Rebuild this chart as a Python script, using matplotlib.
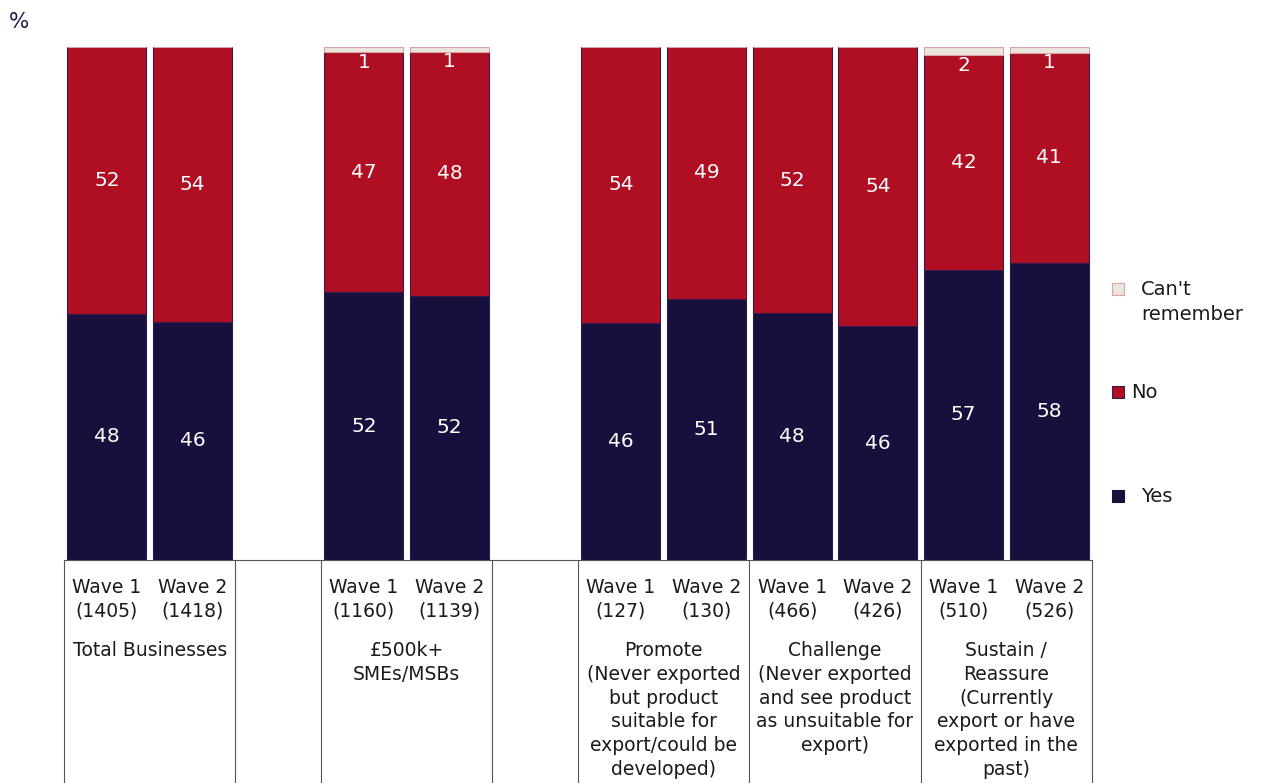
import matplotlib.pyplot as plt
from matplotlib.patches import Rectangle
from matplotlib.transforms import blended_transform_factory

# bar slots (gaps at 2 and 5)
positions = [0, 1, 3, 4, 6, 7, 8, 9, 10, 11]
waves = ["Wave 1", "Wave 2"] * 5
bases = ["(1405)", "(1418)", "(1160)", "(1139)", "(127)", "(130)",
         "(466)", "(426)", "(510)", "(526)"]

yes = [48.0, 46.4, 52.2, 51.5, 46.2, 50.9, 48.1, 45.6, 56.6, 57.9]
no = [52.0, 53.6, 46.8, 47.6, 53.8, 49.1, 51.9, 54.4, 41.8, 41.0]
cant = [0.0, 0.0, 1.0, 0.9, 0.0, 0.0, 0.0, 0.0, 1.6, 1.1]

group_labels = ["Total Businesses", "£500k+\nSMEs/MSBs",
                "Promote\n(Never exported\nbut product\nsuitable for\nexport/could be\ndeveloped)",
                "Challenge\n(Never exported\nand see product\nas unsuitable for\nexport)",
                "Sustain /\nReassure\n(Currently\nexport or have\nexported in the\npast)"]
group_centers = [0.5, 3.5, 6.5, 8.5, 10.5]
cell_edges = [-0.5, 1.5, 2.5, 4.5, 5.5, 7.5, 9.5, 11.5]

NAVY = "#180f3c"
RED = "#b00e22"
CREAM = "#ebe5df"
TEXT = "#1a1a1a"

plt.rcParams["font.family"] = ["DejaVu Sans"]

fig = plt.figure(figsize=(12.64, 7.83), dpi=100)
ax = fig.add_axes([64 / 1264, 1 - 560 / 783, (1092 - 64) / 1264, (560 - 47) / 783])

w = 0.92
ax.bar(positions, yes, width=w, color=NAVY, edgecolor="#2a1d52", lw=0.8)
ax.bar(positions, no, width=w, bottom=yes, color=RED, edgecolor="#3a1a4a", lw=0.8)
cant_bottom = [a + b for a, b in zip(yes, no)]
ax.bar(positions, cant, width=w, bottom=cant_bottom, color=CREAM, edgecolor="#d9a3a3", lw=0.8)

for x, y, n, c, cb in zip(positions, yes, no, cant, cant_bottom):
    ax.text(x, y / 2, f"{y:.0f}", ha="center", va="center", color="white", fontsize=14.5)
    ax.text(x, y + n / 2, f"{n:.0f}", ha="center", va="center", color="white", fontsize=14.5)
    if c > 0:
        ax.text(x, cb - 0.1, f"{c:.0f}", ha="center", va="top", color="white", fontsize=14.5)

ax.set_xlim(-0.5, 11.5)
ax.set_ylim(0, 100)
ax.set_xticks([])
ax.set_yticks([])
for s in ["top", "right", "left"]:
    ax.spines[s].set_visible(False)
ax.spines["bottom"].set_color("#555555")
ax.spines["bottom"].set_linewidth(0.8)

# category table below the bars
tr = blended_transform_factory(ax.transData, fig.transFigure)
for xe in cell_edges:
    ax.plot([xe, xe], [1 - 560 / 783, 0], transform=tr, color="#555555", lw=0.8, clip_on=False)

for x, wv, b in zip(positions, waves, bases):
    ax.text(x, 1 - 578 / 783, f"{wv}\n{b}", transform=tr, ha="center", va="top",
            color=TEXT, fontsize=13.5, linespacing=1.32)
for x, g in zip(group_centers, group_labels):
    ax.text(x, 1 - 641 / 783, g, transform=tr, ha="center", va="top",
            color=TEXT, fontsize=13.5, linespacing=1.32)

fig.text(9 / 1264, 1 - 22 / 783, "%", ha="left", va="center", color="#1e1a4a", fontsize=15.5)

# legend, drawn by hand to match the layout
legend_items = [("Can't\nremember", CREAM, "#d9a3a3", 289, 1141, 302),
                ("No", RED, "#3a1a4a", 392, 1131, 392),
                ("Yes", NAVY, NAVY, 496, 1141, 496)]
for lab, fc, ec, ysq, xt, yt in legend_items:
    fig.add_artist(Rectangle((1112 / 1264, 1 - (ysq + 6) / 783), 12 / 1264, 12 / 783,
                             transform=fig.transFigure, facecolor=fc, edgecolor=ec, lw=0.8))
    fig.text(xt / 1264, 1 - yt / 783, lab, ha="left", va="center", color=TEXT,
             fontsize=14, linespacing=1.45)

fig.savefig("out.png", dpi=100)
